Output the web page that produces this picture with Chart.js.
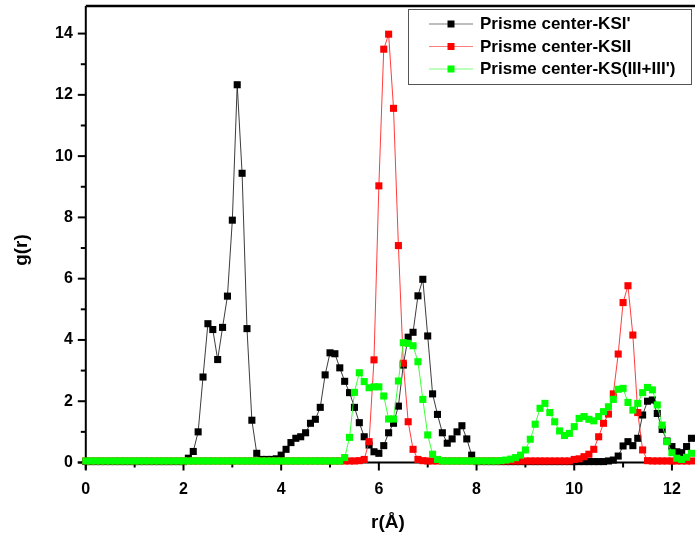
<!DOCTYPE html>
<html><head><meta charset="utf-8">
<script src="https://cdn.jsdelivr.net/npm/chart.js@4.4.1/dist/chart.umd.min.js"></script>
<style>html,body{margin:0;padding:0;background:#fff}canvas{display:block}</style>
</head><body>
<canvas id="c" width="695" height="541"></canvas>
<script>
// r (Å) sample positions
const r = [
 0.0,0.1,0.2,0.3,0.4,0.5,0.6,0.7,0.8,0.9,
 1.0,1.1,1.2,1.3,1.4,1.5,1.6,1.7,1.8,1.9,
 2.0,2.1,2.2,2.3,2.4,2.5,2.6,2.7,2.8,2.9,
 3.0,3.1,3.2,3.3,3.4,3.5,3.6,3.7,3.8,3.9,
 4.0,4.1,4.2,4.3,4.4,4.5,4.6,4.7,4.8,4.9,
 5.0,5.1,5.2,5.3,5.4,5.5,5.6,5.7,5.8,5.9,
 6.0,6.1,6.2,6.3,6.4,6.5,6.6,6.7,6.8,6.9,
 7.0,7.1,7.2,7.3,7.4,7.5,7.6,7.7,7.8,7.9,
 8.0,8.1,8.2,8.3,8.4,8.5,8.6,8.7,8.8,8.9,
 9.0,9.1,9.2,9.3,9.4,9.5,9.6,9.7,9.8,9.9,
 10.0,10.1,10.2,10.3,10.4,10.5,10.6,10.7,10.8,10.9,
 11.0,11.1,11.2,11.3,11.4,11.5,11.6,11.7,11.8,11.9,
 12.0,12.1,12.2,12.3,12.4
];
const gKSI1 = [
 0.03,0.03,0.03,0.03,0.03,0.03,0.03,0.03,0.03,0.03,
 0.03,0.03,0.03,0.03,0.03,0.03,0.03,0.03,0.03,0.03,
 0.03,0.14,0.36,1.0,2.79,4.53,4.34,3.36,4.41,5.43,
 7.91,12.33,9.44,4.37,1.38,0.3,0.1,0.1,0.1,0.12,
 0.24,0.43,0.65,0.79,0.84,0.97,1.28,1.41,1.80,2.86,
 3.58,3.55,3.09,2.65,2.28,1.80,1.30,0.84,0.57,0.35,
 0.30,0.55,0.97,1.28,1.84,3.18,4.09,4.25,5.44,5.98,
 4.13,2.24,1.57,0.97,0.63,0.77,1.0,1.2,0.77,0.24,
 0.03,0.03,0.03,0.03,0.03,0.03,0.03,0.03,0.03,0.03,
 0.03,0.03,0.03,0.03,0.03,0.03,0.03,0.03,0.03,0.03,
 0.03,0.03,0.03,0.03,0.03,0.03,0.03,0.05,0.08,0.21,
 0.54,0.68,0.55,0.79,1.55,2.0,2.04,1.6,1.08,0.7,
 0.52,0.35,0.32,0.52,0.79
];
const gKSII = [
 0.05,0.05,0.05,0.05,0.05,0.05,0.05,0.05,0.05,0.05,
 0.05,0.05,0.05,0.05,0.05,0.05,0.05,0.05,0.05,0.05,
 0.05,0.05,0.05,0.05,0.05,0.05,0.05,0.05,0.05,0.05,
 0.05,0.05,0.05,0.05,0.05,0.05,0.05,0.05,0.05,0.05,
 0.05,0.05,0.05,0.05,0.05,0.05,0.05,0.05,0.05,0.05,
 0.05,0.05,0.05,0.05,0.05,0.05,0.06,0.1,0.68,3.35,
 9.03,13.49,13.98,11.56,7.08,3.24,1.33,0.43,0.1,0.06,
 0.05,0.05,0.05,0.05,0.05,0.05,0.05,0.05,0.05,0.05,
 0.05,0.05,0.05,0.05,0.05,0.05,0.05,0.05,0.05,0.05,
 0.05,0.05,0.05,0.05,0.05,0.05,0.05,0.05,0.05,0.05,
 0.1,0.12,0.19,0.27,0.43,0.84,1.28,1.58,2.24,3.54,
 5.22,5.77,4.16,1.63,0.41,0.06,0.05,0.05,0.05,0.05,
 0.05,0.05,0.05,0.05,0.05
];
const gKSIII = [
 0.05,0.05,0.05,0.05,0.05,0.05,0.05,0.05,0.05,0.05,
 0.05,0.05,0.05,0.05,0.05,0.05,0.05,0.05,0.05,0.05,
 0.05,0.05,0.05,0.05,0.05,0.05,0.05,0.05,0.05,0.05,
 0.05,0.05,0.05,0.05,0.05,0.05,0.05,0.05,0.05,0.05,
 0.05,0.05,0.05,0.05,0.05,0.05,0.05,0.05,0.05,0.05,
 0.05,0.05,0.05,0.16,0.82,2.29,2.93,2.64,2.44,2.47,
 2.47,2.17,1.42,1.42,2.66,3.91,3.89,3.81,3.29,2.06,
 0.9,0.27,0.1,0.05,0.05,0.05,0.05,0.05,0.05,0.05,
 0.05,0.05,0.05,0.05,0.05,0.06,0.08,0.11,0.16,0.24,
 0.41,0.76,1.25,1.77,1.93,1.63,1.33,1.03,0.88,0.95,
 1.17,1.44,1.5,1.41,1.36,1.5,1.66,1.82,2.06,2.39,
 2.42,1.96,1.71,1.93,2.28,2.45,2.37,1.88,1.22,0.68,
 0.32,0.14,0.1,0.17,0.3
];
const seriesNames = ["Prisme center-KSI'", "Prisme center-KSII", "Prisme center-KS(III+III')"];
const yTicks = [0,2,4,6,8,10,12,14];
const xTicks = [0,2,4,6,8,10,12];

const FONT = "'Liberation Sans', Arial, sans-serif";
function pts(ys){ return r.map((x,i)=>({x:x, y:ys[i]})); }

const colors = [
  {pt:'#000000', line:'rgba(40,40,40,0.9)', leg:'#7f7f7f'},
  {pt:'#ff0000', line:'rgba(255,40,40,0.9)', leg:'#ff7f7f'},
  {pt:'#00ff00', line:'rgba(40,255,40,0.9)', leg:'#7fff7f'}
];
const values = [gKSI1, gKSII, gKSIII];
const datasets = values.map((v,i)=>({
  label: seriesNames[i],
  data: pts(v),
  showLine: true,
  borderColor: colors[i].line,
  borderWidth: 1,
  pointStyle: 'rect',
  pointRadius: 5,
  pointHoverRadius: 5,
  pointBackgroundColor: colors[i].pt,
  pointBorderColor: colors[i].pt,
  pointBorderWidth: 0,
  tension: 0,
  clip: false,
  order: 2 - i
}));

const frame = {
  id: 'frame',
  beforeDatasetsDraw(chart){
    const {ctx, chartArea:a, scales:{x, y}} = chart;
    ctx.save();
    ctx.strokeStyle = '#000';
    ctx.lineWidth = 2.5;
    ctx.beginPath(); ctx.moveTo(a.left, a.top); ctx.lineTo(a.right + 5, a.top); ctx.stroke();
    ctx.lineWidth = 2;
    ctx.beginPath(); ctx.moveTo(a.left, a.top); ctx.lineTo(a.left, a.bottom + 7); ctx.stroke();
    ctx.beginPath(); ctx.moveTo(a.left - 8, a.bottom); ctx.lineTo(a.right + 5, a.bottom); ctx.stroke();
    for (let v = 0; v <= 14; v++) {
      const py = y.getPixelForValue(v);
      const len = v % 2 === 0 ? 8 : 5;
      ctx.beginPath(); ctx.moveTo(a.left, py); ctx.lineTo(a.left - len, py); ctx.stroke();
    }
    for (let v = 0; v <= 12; v++) {
      const px = x.getPixelForValue(v);
      const len = v % 2 === 0 ? 8 : 5;
      ctx.beginPath(); ctx.moveTo(px, a.bottom); ctx.lineTo(px, a.bottom + len); ctx.stroke();
    }
    ctx.restore();
  },
  afterDraw(chart){
    const {ctx} = chart;
    ctx.save();
    ctx.fillStyle = '#000';
    ctx.font = "bold 19px " + FONT;
    ctx.textAlign = 'center'; ctx.textBaseline = 'middle';
    ctx.fillText('r(\u00C5)', 388, 523);
    ctx.translate(22, 250); ctx.rotate(-Math.PI/2);
    ctx.fillText('g(r)', 0, 0);
    ctx.restore();
    // legend
    ctx.save();
    const bx = 408.5, by = 9.5, bw = 283, bh = 75;
    ctx.fillStyle = '#fff'; ctx.fillRect(bx, by, bw, bh);
    ctx.strokeStyle = '#555'; ctx.lineWidth = 1; ctx.strokeRect(bx, by, bw, bh);
    ctx.font = "bold 17px " + FONT;
    ctx.textAlign = 'left'; ctx.textBaseline = 'middle';
    chart.data.datasets.forEach((ds, i) => {
      const cy = 24 + i * 22.5;
      ctx.strokeStyle = colors[i].leg; ctx.lineWidth = 1.2;
      ctx.beginPath(); ctx.moveTo(429, cy); ctx.lineTo(473, cy); ctx.stroke();
      ctx.fillStyle = colors[i].pt; ctx.fillRect(447.5, cy - 3.5, 7, 7);
      ctx.fillStyle = '#000'; ctx.fillText(ds.label, 480, cy + 0.5);
    });
    ctx.restore();
  }
};

new Chart(document.getElementById('c'), {
  type: 'scatter',
  data: { datasets },
  options: {
    responsive: false,
    animation: false,
    events: [],
    layout: { padding: { top: 6, right: 0, left: 0, bottom: 0 } },
    plugins: { legend: { display: false }, tooltip: { enabled: false } },
    scales: {
      x: {
        type: 'linear', min: 0, max: 12.37,
        afterBuildTicks: s => { s.ticks = xTicks.map(v => ({value: v})); },
        ticks: { includeBounds: false, autoSkip: false, maxRotation: 0, padding: 9, color: '#000',
                 font: { family: FONT, size: 16, weight: 'bold' } },
        grid: { drawOnChartArea: false, tickLength: 8, color: 'rgba(0,0,0,0)' },
        border: { display: false },
        afterFit: s => { s.height = 541 - 462.5; s.paddingLeft = 0; s.paddingRight = 0; }
      },
      y: {
        type: 'linear', min: 0, max: 14.9,
        afterBuildTicks: s => { s.ticks = yTicks.map(v => ({value: v})); },
        ticks: { includeBounds: false, padding: 5, color: '#000',
                 font: { family: FONT, size: 16, weight: 'bold' } },
        grid: { drawOnChartArea: false, tickLength: 8, color: 'rgba(0,0,0,0)' },
        border: { display: false },
        afterFit: s => { s.width = 85.8; s.paddingTop = 0; s.paddingBottom = 0; }
      }
    }
  },
  plugins: [frame]
});
</script>
</body></html>
